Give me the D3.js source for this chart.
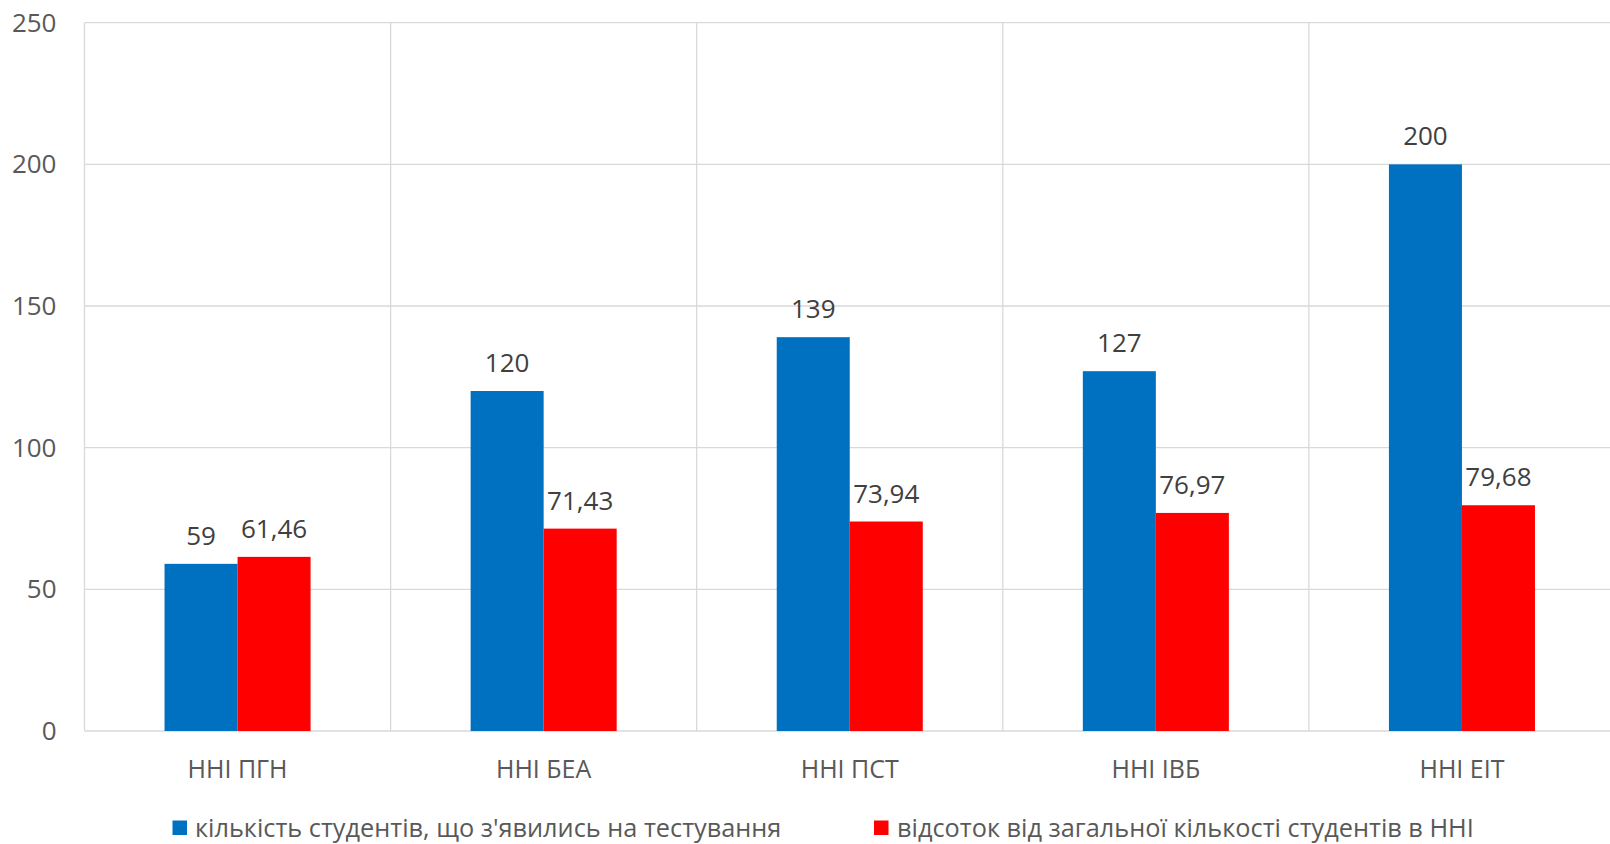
<!DOCTYPE html>
<html>
<head>
<meta charset="utf-8">
<script src="https://cdn.jsdelivr.net/npm/d3@7"></script>
<style>
  html, body { margin: 0; padding: 0; background: #fff; }
  svg { display: block; }
  text { font-family: "Open Sans", "Noto Sans", sans-serif; }
</style>
</head>
<body>
<svg id="chart" width="1610" height="844"></svg>
<script>
const categories = ["ННІ ПГН", "ННІ БЕА", "ННІ ПСТ", "ННІ ІВБ", "ННІ ЕІТ"];
const seriesNames = ["кількість студентів, що з'явились на тестування", "відсоток від загальної кількості студентів в ННІ"];
const studentsCount = [59, 120, 139, 127, 200];
const percentOfTotal = [61.46, 71.43, 73.94, 76.97, 79.68];
const percentLabels = ["61,46", "71,43", "73,94", "76,97", "79,68"];
const yTicks = [0, 50, 100, 150, 200, 250];
const colors = ["#0070C0", "#FF0000"];

const W = 1610, H = 844;
const m = { left: 84.5, right: 1615, top: 22.7, bottom: 731 };

const svg = d3.select("#chart");

const x0 = d3.scaleBand().domain(categories).range([m.left, m.right]).paddingInner(0).paddingOuter(0);
const x1 = d3.scaleBand().domain([0, 1]).range([0, x0.bandwidth()]).paddingInner(0).paddingOuter(1.096);
const y = d3.scaleLinear().domain([0, 250]).range([m.bottom, m.top]);

const grid = svg.append("g");
grid.selectAll("line.h").data(yTicks).enter().append("line")
  .attr("x1", m.left).attr("x2", m.right)
  .attr("y1", d => y(d)).attr("y2", d => y(d))
  .attr("stroke", "#d9d9d9").attr("stroke-width", 1.3);
const bounds = categories.map(c => x0(c)).concat([m.right]);
grid.selectAll("line.v").data(bounds).enter().append("line")
  .attr("x1", d => d).attr("x2", d => d)
  .attr("y1", m.top).attr("y2", m.bottom)
  .attr("stroke", "#d9d9d9").attr("stroke-width", 1.3);

const yAxis = d3.axisLeft(y).tickValues(yTicks).tickSize(0).tickPadding(0).tickFormat(d3.format("d"));
const ya = svg.append("g").attr("transform", `translate(${m.left - 28},0)`).call(yAxis);
ya.select(".domain").remove();
ya.selectAll("text").attr("font-size", 26).attr("fill", "#595959")
  .attr("font-family", "'Open Sans', 'Noto Sans', sans-serif");

const xAxis = d3.axisBottom(x0).tickSize(0).tickPadding(0);
const xa = svg.append("g").attr("transform", `translate(0,${m.bottom + 47})`).call(xAxis);
xa.select(".domain").remove();
xa.selectAll("text").attr("font-size", 25).attr("fill", "#595959").attr("dy", 0)
  .attr("font-family", "'Open Sans', 'Noto Sans', sans-serif");

const data = categories.map((c, i) => ({
  cat: c,
  vals: [
    { s: 0, v: studentsCount[i], label: String(studentsCount[i]) },
    { s: 1, v: percentOfTotal[i], label: percentLabels[i] }
  ]
}));

const groups = svg.append("g").selectAll("g").data(data).enter().append("g")
  .attr("transform", d => `translate(${x0(d.cat)},0)`);

groups.selectAll("rect").data(d => d.vals).enter().append("rect")
  .attr("x", d => x1(d.s))
  .attr("width", x1.bandwidth())
  .attr("y", d => y(d.v))
  .attr("height", d => y(0) - y(d.v))
  .attr("fill", d => colors[d.s]);

groups.selectAll("text").data(d => d.vals).enter().append("text")
  .attr("x", d => x1(d.s) + x1.bandwidth() / 2)
  .attr("y", d => y(d.v) - 19)
  .attr("text-anchor", "middle")
  .attr("font-size", 26)
  .attr("fill", "#404040")
  .text(d => d.label);

const legendPos = [{ sq: 172.5, tx: 195 }, { sq: 874, tx: 897 }];
const lg = svg.append("g");
seriesNames.forEach((name, i) => {
  lg.append("rect").attr("x", legendPos[i].sq).attr("y", 820.5)
    .attr("width", 14.5).attr("height", 14.5).attr("fill", colors[i]);
  lg.append("text").attr("x", legendPos[i].tx).attr("y", 837)
    .attr("font-size", 25.3).attr("fill", "#595959").text(name);
});
</script>
</body>
</html>
